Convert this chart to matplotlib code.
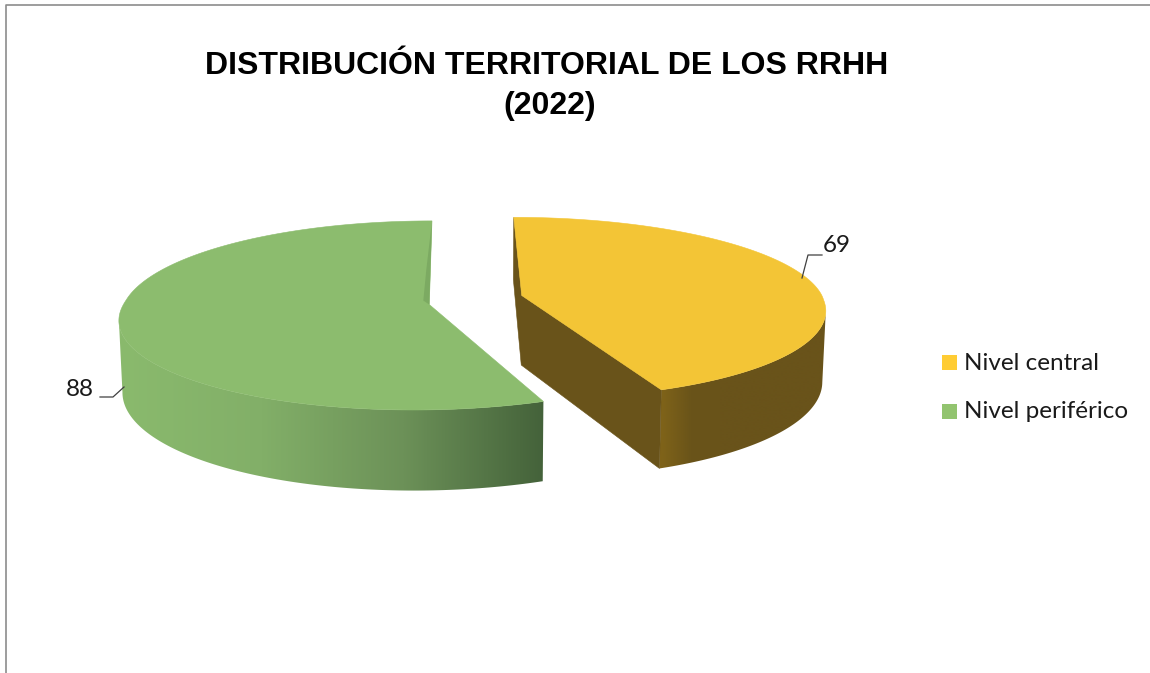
"""Exploded 3D-look pie: territorial distribution of staff (2022)."""
import matplotlib
matplotlib.use("Agg")
import matplotlib.pyplot as plt
import numpy as np
from matplotlib.colors import LinearSegmentedColormap
from matplotlib.patches import Polygon, Rectangle

# Data
categories = ["Nivel central", "Nivel periférico"]
values = [69, 88]
title_lines = ["DISTRIBUCIÓN TERRITORIAL DE LOS RRHH", "(2022)"]

# Colours
top_colors = ["#F3C536", "#8CBC6E"]
legend_colors = ["#FFCC33", "#92C46F"]
yellow_wall = LinearSegmentedColormap.from_list("y", ["#7F6319", "#6A5419", "#69531A"])
green_wall = LinearSegmentedColormap.from_list("g", ["#8ABA6D", "#82AF68", "#6C9158", "#44623A"])

# Perspective set-up, in figure pixels
VX, VY = 476, 300       # vanishing x, pie centre y
RY = 91
RX = {1: 302, -1: 304}
PERSP = 0.125
HEIGHT = 70
EXPLODE_X, EXPLODE_D = 46, 0.05


def project(theta, side, z=0.0, radius=1.0):
    """theta clockwise from the back of the pie, side +1 right slice, -1 left slice."""
    theta = np.asarray(theta, dtype=float)
    c = np.cos(theta) * radius
    d = c + side * EXPLODE_D * (1 - 0.5 * np.maximum(c, 0))
    s = 1 / (1 + PERSP * d)
    spread = 1 + 0.17 * np.maximum(-d, 0)
    vx = VX - 3 * np.maximum(c, 0)
    x = vx + (side * EXPLODE_X * spread + RX[side] * np.sin(theta) * radius) * s * (1 - 0.01 * z)
    y = VY - RY * d * s + HEIGHT * z * s
    return x, y


def draw_wall(ax, thetas, side, cmap, x_lo, x_hi):
    """Outer wall: horizontal colour ramp clipped to the wall outline."""
    xt, yt = project(thetas, side)
    xb, yb = project(thetas, side, 1)
    outline = np.column_stack([np.r_[xt, xb[::-1]], np.r_[yt, yb[::-1]]])
    left, right = outline[:, 0].min() - 2, outline[:, 0].max() + 2
    ramp = np.clip((np.linspace(left, right, 512) - x_lo) / (x_hi - x_lo), 0, 1)[None, :]
    img = ax.imshow(ramp, cmap=cmap, vmin=0, vmax=1, aspect="auto",
                    extent=(left, right, yb.max() + 2, yt.min() - 2),
                    interpolation="bilinear")
    img.set_clip_path(Polygon(outline, transform=ax.transData))


def draw_slice(ax, t0, t1, side, top_color, cmap, x_lo, x_hi):
    thetas = np.linspace(t0, t1, 240)
    xt, yt = project(thetas, side)
    ax_, ay_ = project(0.0, side, radius=0.0)
    ax_b, ay_b = project(0.0, side, 1, radius=0.0)
    if side > 0:
        # the wall only shows from the rightmost point of the rim to the front cut
        draw_wall(ax, thetas[np.argmax(xt):], side, cmap, x_lo, x_hi)
        # inner wall at the back and front cut face as one shape
        bx, by = project(t0, side)
        bxb, byb = project(t0, side, 1)
        fx, fy = project(t1, side)
        fxb, fyb = project(t1, side, 1)
        wall = cmap(1.0)
        ax.add_patch(Polygon([(bx, by), (bxb, byb), (ax_b, ay_b), (fxb, fyb), (fx, fy), (ax_, ay_)],
                             facecolor=wall, edgecolor=wall, linewidth=0.4))
    else:
        draw_wall(ax, thetas[:np.argmin(xt) + 1], side, cmap, x_lo, x_hi)
    ax.add_patch(Polygon(np.column_stack([np.r_[ax_, xt], np.r_[ay_, yt]]),
                         facecolor=top_color, edgecolor=top_color, linewidth=0.4))
    if side < 0:
        # darker sliver on the top face next to the back cut
        ex, ey = project(t1, side)
        ax.add_patch(Polygon([(ex, ey), (ax_, ay_), (ax_ - 6, ay_ - 4), (ax_ - 3, ay_ - 35)],
                             facecolor="#7CAA62", edgecolor="none"))


fig = plt.figure(figsize=(11.5, 6.73), dpi=100)
ax = fig.add_axes([0, 0, 1, 1])

split = 2 * np.pi * values[0] / sum(values)
draw_slice(ax, split, 2 * np.pi, -1, top_colors[1], green_wall, 120, 545)
draw_slice(ax, 0, split, 1, top_colors[0], yellow_wall, 662, 720)

ax.set_xlim(0, 1150)
ax.set_ylim(673, 0)
ax.axis("off")

# Chart area border, only left and top show
ax.plot([5.5, 5.5, 1150], [673, 4.5, 4.5], color="#8C8C8C", linewidth=1.2)
ax.text(47, -6, "g", fontsize=20, fontweight="bold", family="Liberation Sans",
        ha="center", va="baseline", color="black")

for line, x, y in zip(title_lines, [547, 550], [74, 114]):
    ax.text(x, y, line, fontsize=23, fontweight="bold", family="Liberation Sans",
            ha="center", va="baseline", color="black")

# Data labels with leader lines
ax.plot([802, 808, 822], [278, 255, 255], color="#404040", linewidth=0.9)
ax.text(837, 246, str(values[0]), fontsize=17.5, family="Lato", ha="center",
        va="center", color="#1A1A1A")
ax.plot([124, 113, 100], [387, 397, 397], color="#404040", linewidth=0.9)
ax.text(80, 389, str(values[1]), fontsize=17.5, family="Lato", ha="center",
        va="center", color="#1A1A1A")

# Legend
for i, (name, col) in enumerate(zip(categories, legend_colors)):
    y = 363 + i * 49
    ax.add_patch(Rectangle((942, y - 8), 15, 15, facecolor=col, edgecolor="none"))
    ax.text(964, y, name, fontsize=17.5, family="Lato", ha="left", va="center",
            color="#1A1A1A")

fig.savefig("out.png", dpi=100)
